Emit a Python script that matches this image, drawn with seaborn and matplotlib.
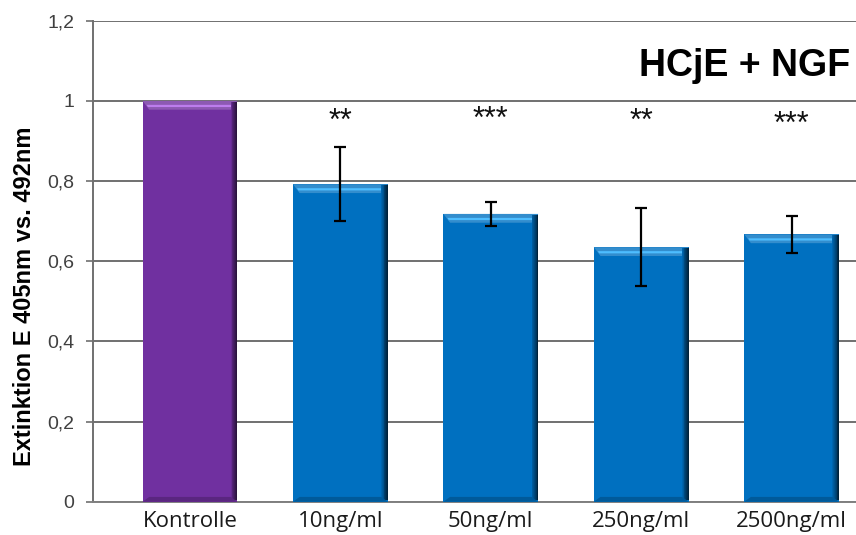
import numpy as np
import pandas as pd
import matplotlib
matplotlib.use("Agg")
import matplotlib.pyplot as plt
from matplotlib.patches import Rectangle, Polygon
import seaborn as sns

# Data
categories = ["Kontrolle", "10ng/ml", "50ng/ml", "250ng/ml", "2500ng/ml"]
extinction = [1.0, 0.792, 0.718, 0.635, 0.667]
errors = [0.0, 0.092, 0.030, 0.098, 0.046]
significance = ["", "**", "***", "**", "***"]
star_y = [None, 0.985, 0.990, 0.985, 0.977]
bar_colors = ["#7030A0", "#0070C0", "#0070C0", "#0070C0", "#0070C0"]
y_ticks = [0, 0.2, 0.4, 0.6, 0.8, 1.0, 1.2]
y_tick_labels = ["0", "0,2", "0,4", "0,6", "0,8", "1", "1,2"]

sns.set_style("white")
plt.rcParams["font.family"] = ["Liberation Sans", "DejaVu Sans"]

fig = plt.figure(figsize=(8.56, 5.35), dpi=100)
ax = fig.add_axes([0.1086, 0.0622, 0.8914, 0.8991])

df = pd.DataFrame({"cat": categories, "val": extinction})
sns.barplot(data=df, x="cat", y="val", hue="cat", palette=bar_colors,
            saturation=1, legend=False, width=0.63, ax=ax, zorder=3, linewidth=0)

ax.set_xlim(-0.645, 4.428)
ax.set_ylim(0, 1.2)

# Bevel shading on each bar, derived from the bar geometry
for p, col in zip(ax.patches, bar_colors):
    x0, w, h = p.get_x(), p.get_width(), p.get_height()
    x1 = x0 + w
    base = np.array(matplotlib.colors.to_rgb(col))
    light = np.clip(base + 0.3, 0, 1)
    dark = base * 0.3
    bw = w * 0.07          # bevel width in data units (x)
    bh = 0.022             # bevel height in data units (y)
    # top highlight band
    ax.add_patch(Polygon([[x0, h], [x1, h], [x1 - bw, h - bh], [x0 + bw, h - bh]],
                         closed=True, facecolor=base * 0.8 + 0.2, edgecolor="none", zorder=4))
    ax.add_patch(Polygon([[x0 + bw * 0.6, h - bh * 0.45], [x1 - bw * 0.6, h - bh * 0.45],
                          [x1 - bw * 0.8, h - bh * 0.7], [x0 + bw * 0.8, h - bh * 0.7]],
                         closed=True, facecolor=light, edgecolor="none", zorder=4))
    # right-edge shadow gradient
    n = 8
    for i in range(n):
        frac = (i + 1) / n
        xs = x1 - bw * (1 - i / n)
        ax.add_patch(Rectangle((xs, 0.004), bw / n, h - 0.006,
                               facecolor=base * (1 - frac) + dark * frac,
                               edgecolor="none", zorder=4))
    # bottom bevel
    ax.add_patch(Polygon([[x0, 0], [x1, 0], [x1 - bw, 0.012], [x0 + bw, 0.012]],
                         closed=True, facecolor=base * 0.8, edgecolor="none", zorder=4))

# Error bars
xpos = np.arange(len(categories))
for xi, v, e in zip(xpos, extinction, errors):
    if e > 0:
        ax.errorbar(xi, v, yerr=e, fmt="none", ecolor="black", elinewidth=1.6,
                    capsize=4.5, capthick=1.6, zorder=6)

# Significance markers
for xi, s, yy in zip(xpos, significance, star_y):
    if s:
        ax.text(xi, yy, s, ha="center", va="top", fontsize=22,
                color="#111111", zorder=6)

# Gridlines and axes
ax.set_yticks(y_ticks)
ax.set_yticklabels(y_tick_labels, fontsize=14, color="#404040")
ax.yaxis.grid(True, color="#707070", linewidth=1.4, zorder=0)
ax.set_axisbelow(True)
for side in ["top", "right"]:
    ax.spines[side].set_visible(False)
ax.spines["left"].set_color("#707070")
ax.spines["left"].set_linewidth(1.4)
ax.spines["bottom"].set_color("#808080")
ax.spines["bottom"].set_linewidth(1.4)
ax.tick_params(axis="y", which="major", left=True, length=5, width=1.2,
               color="#707070", pad=8.5)
ax.tick_params(axis="x", bottom=False, pad=3)
ax.set_xticks(xpos)
ax.set_xticklabels(categories, fontsize=16, family=["Open Sans", "DejaVu Sans"],
                   color="#1a1a1a")
ax.set_xlabel("")
ax.set_ylabel("Extinktion E 405nm vs. 492nm", fontsize=17, fontweight="bold",
              color="black")
ax.yaxis.set_label_coords(-0.074, 0.428)

ax.text(0.992, 0.905, "HCjE + NGF", transform=ax.transAxes, ha="right",
        va="center", fontsize=27, fontweight="bold", color="black", zorder=7)

fig.savefig("out.png", dpi=100)
